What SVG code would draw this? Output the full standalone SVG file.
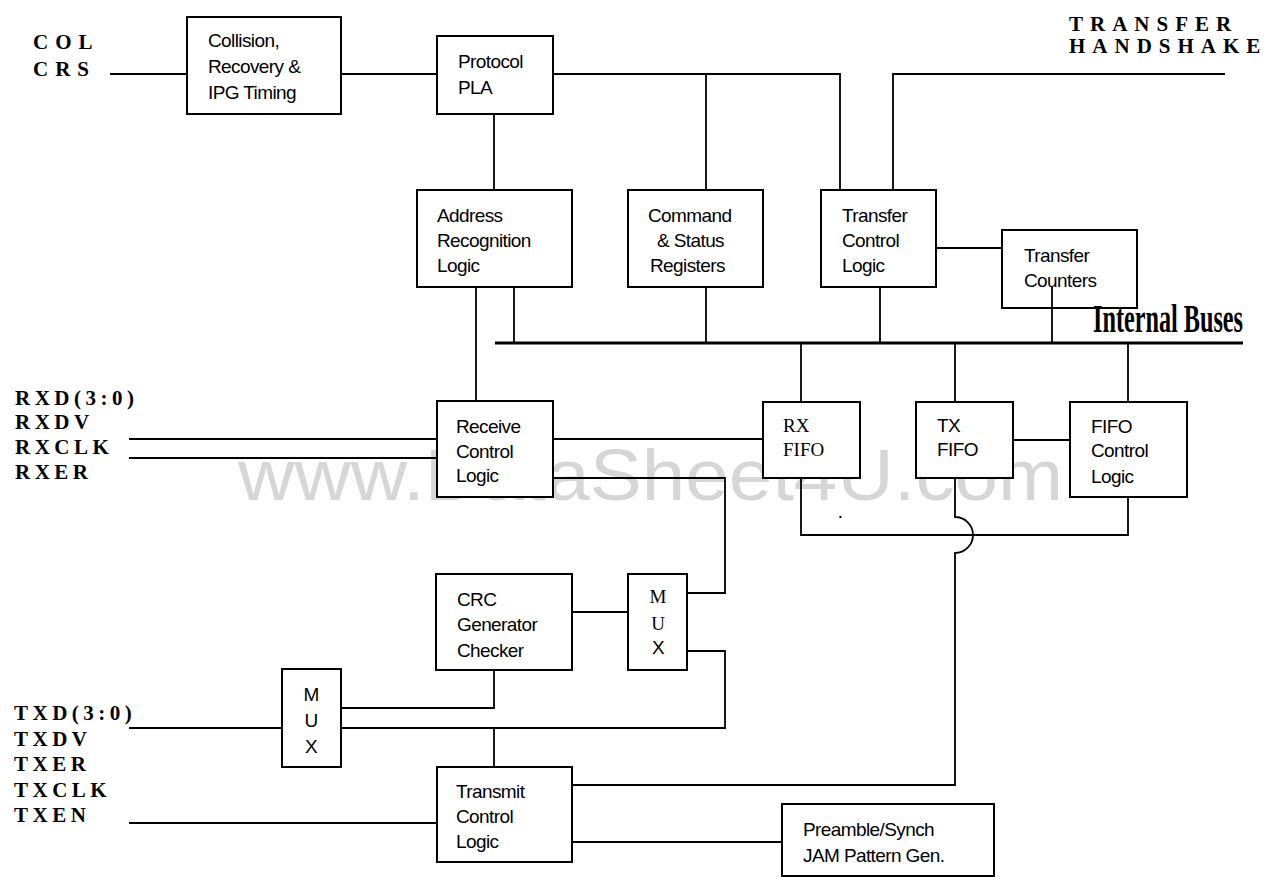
<svg xmlns="http://www.w3.org/2000/svg" width="1266" height="877" viewBox="0 0 1266 877">
<style>
.box{fill:#fff;stroke:#000;stroke-width:2}
.ln{fill:none;stroke:#000;stroke-width:1.8}
.bus{fill:none;stroke:#000;stroke-width:3}
.t{font-family:"Liberation Sans",Arial,sans-serif;font-size:19px;fill:#000;letter-spacing:-0.6px}
.ts{font-family:"Liberation Serif","Times New Roman",serif;font-size:19px;fill:#000}
.sig{font-family:"Liberation Serif","Times New Roman",serif;font-size:21px;font-weight:bold;fill:#000;letter-spacing:4.5px}
.sigw{font-family:"Liberation Serif","Times New Roman",serif;font-size:21px;font-weight:bold;fill:#000;letter-spacing:7px}
.wm{font-family:"Liberation Sans",Arial,sans-serif;font-size:72px;fill:#d6d6d6}
.bustxt{font-family:"Liberation Serif","Times New Roman",serif;font-size:40px;font-weight:bold;fill:#000}
</style>
<rect width="1266" height="877" fill="#fff"/>
<text class="wm" x="238" y="500" textLength="825" lengthAdjust="spacingAndGlyphs">www.DataSheet4U.com</text>

<g id="signals">
<text class="sigw" x="33" y="49">COL</text>
<text class="sigw" x="33" y="76">CRS</text>
<text class="sigw" x="1069" y="31">TRANSFER</text>
<text class="sigw" x="1069" y="53">HANDSHAKE</text>
<text class="sig" x="15" y="405">RXD(3:0)</text>
<text class="sig" x="15" y="429">RXDV</text>
<text class="sig" x="15" y="454">RXCLK</text>
<text class="sig" x="15" y="479">RXER</text>
<text class="sig" x="14" y="720">TXD(3:0)</text>
<text class="sig" x="14" y="746">TXDV</text>
<text class="sig" x="14" y="771">TXER</text>
<text class="sig" x="14" y="797">TXCLK</text>
<text class="sig" x="14" y="822">TXEN</text>
</g>

<g id="n-collision"><rect class="box" x="187" y="17" width="154" height="97"/>
<text class="t" x="208" y="47">Collision,</text><text class="t" x="208" y="73">Recovery &amp;</text><text class="t" x="208" y="99">IPG Timing</text></g>
<g id="n-protocol"><rect class="box" x="437" y="36" width="116" height="78"/>
<text class="t" x="458" y="68">Protocol</text><text class="t" x="458" y="94">PLA</text></g>
<g id="n-address"><rect class="box" x="417" y="190" width="155" height="97"/>
<text class="t" x="437" y="222">Address</text><text class="t" x="437" y="247">Recognition</text><text class="t" x="437" y="272">Logic</text></g>
<g id="n-command"><rect class="box" x="628" y="190" width="135" height="97"/>
<text class="t" x="648" y="222">Command</text><text class="t" x="657" y="247">&amp; Status</text><text class="t" x="650" y="272">Registers</text></g>
<g id="n-transferctl"><rect class="box" x="821" y="190" width="115" height="97"/>
<text class="t" x="842" y="222">Transfer</text><text class="t" x="842" y="247">Control</text><text class="t" x="842" y="272">Logic</text></g>
<g id="n-counters"><rect class="box" x="1002" y="230" width="135" height="78"/>
<text class="t" x="1024" y="262">Transfer</text><text class="t" x="1024" y="287">Counters</text></g>
<g id="n-receive"><rect class="box" x="437" y="401" width="116" height="96"/>
<text class="t" x="456" y="433">Receive</text><text class="t" x="456" y="458">Control</text><text class="t" x="456" y="482">Logic</text></g>
<g id="n-rxfifo"><rect class="box" x="763" y="402" width="97" height="76"/>
<text class="ts" x="783" y="432">RX</text><text class="ts" x="783" y="456">FIFO</text></g>
<g id="n-txfifo"><rect class="box" x="916" y="402" width="97" height="76"/>
<text class="t" x="937" y="432">TX</text><text class="t" x="937" y="456">FIFO</text></g>
<g id="n-fifoctl"><rect class="box" x="1070" y="402" width="117" height="95"/>
<text class="t" x="1091" y="433">FIFO</text><text class="t" x="1091" y="457">Control</text><text class="t" x="1091" y="483">Logic</text></g>
<g id="n-crc"><rect class="box" x="436" y="574" width="136" height="96"/>
<text class="t" x="457" y="606">CRC</text><text class="t" x="457" y="631">Generator</text><text class="t" x="457" y="657">Checker</text></g>
<g id="n-mux1"><rect class="box" x="628" y="574" width="59" height="96"/>
<text class="ts" x="658" y="603" text-anchor="middle">M</text><text class="ts" x="658" y="630" text-anchor="middle">U</text><text class="t" x="658" y="654" text-anchor="middle">X</text></g>
<g id="n-mux2"><rect class="box" x="282" y="669" width="59" height="98"/>
<text class="t" x="311" y="701" text-anchor="middle">M</text><text class="t" x="311" y="727" text-anchor="middle">U</text><text class="t" x="311" y="753" text-anchor="middle">X</text></g>
<g id="n-transmit"><rect class="box" x="437" y="767" width="135" height="95"/>
<text class="t" x="456" y="798">Transmit</text><text class="t" x="456" y="823">Control</text><text class="t" x="456" y="848">Logic</text></g>
<g id="n-preamble"><rect class="box" x="782" y="804" width="212" height="72"/>
<text class="t" x="803" y="836">Preamble/Synch</text><text class="t" x="803" y="862">JAM Pattern Gen.</text></g>

<g id="connectors">
<path class="ln" d="M110,74 H187"/>
<path class="ln" d="M341,74 H437"/>
<path class="ln" d="M553,74 H840 V190"/>
<path class="ln" d="M706,74 V190"/>
<path class="ln" d="M494,114 V190"/>
<path class="ln" d="M893,190 V74 H1225"/>
<path class="ln" d="M476,287 V401"/>
<path class="ln" d="M514,287 V343"/>
<path class="ln" d="M706,287 V343"/>
<path class="ln" d="M880,287 V343"/>
<path class="ln" d="M936,248 H1002"/>
<path class="ln" d="M1052,287 V343"/>
<path class="bus" d="M495,343 H1243"/>
<text class="bustxt" x="1093" y="332" textLength="150" lengthAdjust="spacingAndGlyphs">Internal Buses</text>
<path class="ln" d="M801,343 V402"/>
<path class="ln" d="M955,343 V402"/>
<path class="ln" d="M1128,343 V402"/>
<path class="ln" d="M129,439 H437"/>
<path class="ln" d="M129,458 H437"/>
<path class="ln" d="M553,439 H763"/>
<path class="ln" d="M1013,440 H1070"/>
<path class="ln" d="M553,478 H725 V593 H687"/>
<path class="ln" d="M801,478 V535 H1128 V497"/>
<path class="ln" d="M955,478 V517 A18,18 0 0 1 955,553 V785 H572"/>
<path class="ln" d="M572,612 H628"/>
<path class="ln" d="M687,651 H725 V728 H341"/>
<path class="ln" d="M494,670 V708 H341"/>
<path class="ln" d="M129,728 H282"/>
<path class="ln" d="M494,728 V767"/>
<path class="ln" d="M129,823 H437"/>
<path class="ln" d="M572,842 H782"/>
<text class="ts" x="838" y="518" font-size="12">.</text>
</g>
</svg>
